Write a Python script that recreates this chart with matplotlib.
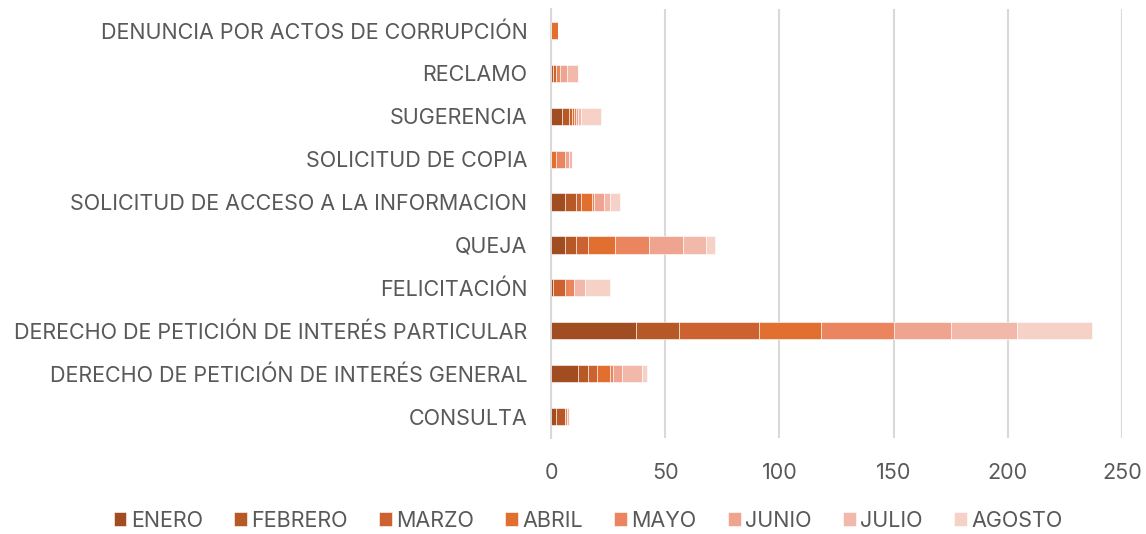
import matplotlib
matplotlib.use("Agg")
import matplotlib.pyplot as plt
import numpy as np

categories = ["CONSULTA",
              "DERECHO DE PETICIÓN DE INTERÉS GENERAL",
              "DERECHO DE PETICIÓN DE INTERÉS PARTICULAR",
              "FELICITACIÓN",
              "QUEJA",
              "SOLICITUD DE ACCESO A LA INFORMACION",
              "SOLICITUD DE COPIA",
              "SUGERENCIA",
              "RECLAMO",
              "DENUNCIA POR ACTOS DE CORRUPCIÓN"]
months = ["ENERO", "FEBRERO", "MARZO", "ABRIL", "MAYO", "JUNIO", "JULIO", "AGOSTO"]

enero   = [2, 12, 37, 1, 6, 6, 0, 5, 0, 0]
febrero = [4, 4, 19, 0, 5, 5, 0, 3, 1, 0]
marzo   = [0, 4, 35, 5, 5, 2, 0, 1, 1, 0]
abril   = [0, 6, 27, 0, 12, 5, 2, 1, 0, 3]
mayo    = [1, 1, 32, 4, 15, 1, 4, 1, 2, 0]
junio   = [0, 4, 25, 0, 15, 4, 2, 1, 3, 0]
julio   = [1, 9, 29, 5, 10, 3, 1, 1, 5, 0]
agosto  = [0, 2, 33, 11, 4, 4, 0, 9, 0, 0]
series = [enero, febrero, marzo, abril, mayo, junio, julio, agosto]
colors = ["#a14c21", "#b75926", "#cc6230", "#e06f30", "#ea8560", "#eea48e", "#f2b9ab", "#f5d1c6"]
xticks = [0, 50, 100, 150, 200, 250]

plt.rcParams['font.family'] = ['Inter', 'DejaVu Sans']
fig = plt.figure(figsize=(11.46, 5.34), dpi=100)
ax = fig.add_axes([551/1146, 1-438/534, (1122-551)/1146, (438-9)/534])

y = np.arange(len(categories))
left = np.zeros(len(categories))
for name, vals, c in zip(months, series, colors):
    ax.barh(y, vals, left=left, height=0.4, color=c, edgecolor="white", linewidth=0.4, label=name, zorder=3)
    left += np.array(vals)

ax.set_xlim(0, 250)
ax.set_ylim(-0.5, len(categories)-0.5)
ax.set_yticks(y)
ax.set_yticklabels(categories)
ax.set_xticks(xticks)
ax.xaxis.grid(True, color="#d9d9d9", linewidth=1.5, zorder=0)
ax.set_axisbelow(True)
for s in ["top", "right", "bottom"]:
    ax.spines[s].set_visible(False)
ax.spines["left"].set_color("#d9d9d9")
ax.spines["left"].set_linewidth(1.5)
ax.tick_params(axis="both", length=0, labelsize=15.5, labelcolor="#595959")
ax.tick_params(axis="y", pad=17)
ax.tick_params(axis="x", pad=18)

leg = fig.legend(loc="lower center", bbox_to_anchor=(0.513, -0.03), ncol=8, frameon=False,
                 fontsize=15.5, handlelength=0.6, handleheight=0.6, handletextpad=0.2,
                 columnspacing=1.45, labelcolor="#595959")
fig.savefig("out.png", dpi=100)
